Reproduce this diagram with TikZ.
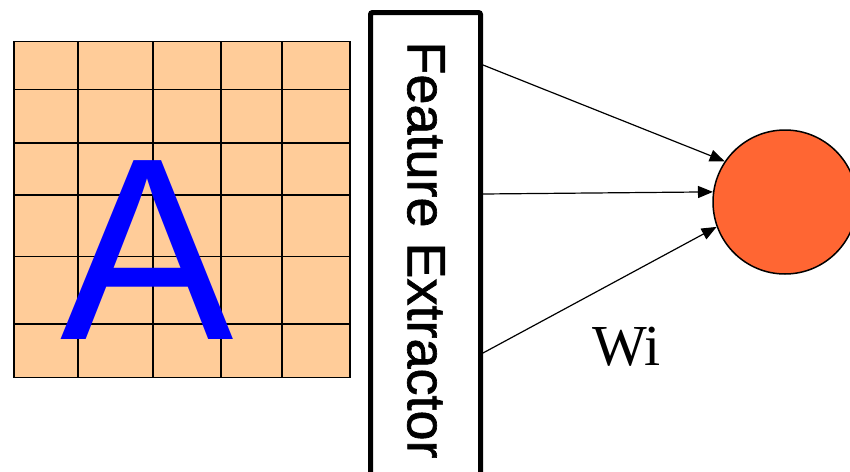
\documentclass[tikz,border=0pt]{standalone}
\usepackage{fontspec}
\setmainfont{Liberation Serif}
\newfontfamily\arialfont{Liberation Sans}
\newfontfamily\fxfont[FakeBold=1.2]{Liberation Sans}
\usetikzlibrary{arrows.meta}
\definecolor{cellcolor}{RGB}{255,204,153}
\definecolor{neuroncolor}{RGB}{255,102,51}

\begin{document}
\begin{tikzpicture}[x=1pt, y=-1pt,
  cell/.style={line width=1.5pt},
  fxbox/.style={draw, line width=5pt, rounded corners=2pt, minimum width=110pt,
                minimum height=470pt, inner sep=0pt},
  arr/.style={-{Triangle[length=15pt,width=12pt]}, line width=1.2pt}
]
  \path[use as bounding box, clip] (0,0) rectangle (850,471);
  \node[cell, draw, fill=cellcolor, minimum width=336pt, minimum height=336pt,
        inner sep=0pt] (img) at (182,209.7) {};
  \foreach \gx in {78,153,221,282}
    \draw[cell] (\gx,41.7) -- (\gx,377.7);
  \foreach \gy in {89.7,143,195,256.7,324}
    \draw[cell] (14,\gy) -- (350,\gy);
  \node[font=\arialfont\fontsize{260}{260}\selectfont, text=blue, inner sep=0pt,
        anchor=base] (letter) at (147,339) {A};
  \node[fxbox] (fx) at (425.5,247.5) {};
  \node[rotate=-90, font=\fxfont\fontsize{54}{54}\selectfont, inner sep=0pt]
        (fxlabel) at (426,250) {Feature Extractor};
  \node[circle, draw, fill=neuroncolor, line width=1.5pt, minimum size=144pt,
        inner sep=0pt] (neuron) at (785,202) {};
  \draw[arr] ([yshift=182.5pt]fx.east) -- (neuron.146);
  \draw[arr] ([yshift=53.5pt]fx.east) -- (neuron.172);
  \draw[arr] ([yshift=-105.5pt]fx.east) -- (neuron.200);
  \node[font=\fontsize{58}{58}\selectfont, anchor=base west, inner sep=0pt]
        (wi) at (592,365) {Wi};
\end{tikzpicture}
\end{document}
